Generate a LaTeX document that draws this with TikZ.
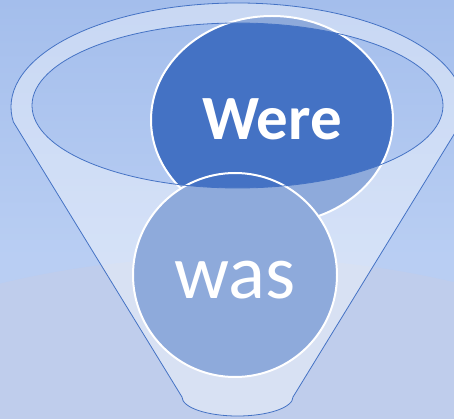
\documentclass[tikz,border=0pt]{standalone}
\usepackage{fontspec}
\newfontfamily\calibri{Carlito}
\usetikzlibrary{shapes.geometric}
\definecolor{accent}{HTML}{4472C4}
\definecolor{bgtop}{HTML}{A4BEEC}
\definecolor{bgmid}{HTML}{B9CEF3}
\definecolor{floor}{HTML}{BFCDEC}

\begin{document}
\begin{tikzpicture}[
  x=1pt, y=1pt,
  % Styles
  bubble/.style={ellipse, fill=accent, draw=white, line width=2pt,
    text=white, inner sep=0pt, text depth=0pt},
  rim/.style={draw=accent, line width=0.8pt},
  glass/.style={fill=white, fill opacity=0.4, even odd rule},
]

% === Background ===
\useasboundingbox (0,0) rectangle (454,418);
\fill[bgmid] (0,0) rectangle (454,160);
\shade[top color=bgtop, bottom color=bgmid] (0,160) rectangle (454,418);
\begin{scope}
  \clip (0,0) rectangle (454,418);
  \fill[floor] (230,-142) ellipse[x radius=560, y radius=303];
\end{scope}

% === Circles ===
\node[bubble, minimum width=242, minimum height=208, text height=40pt,
  font=\calibri\bfseries\fontsize{63}{63}\selectfont] (were) at (272,298) {Were};
\node[bubble, circle, minimum size=204, text height=46pt,
  font=\calibri\fontsize{77}{77}\selectfont] (was) at (235,143) {was};

% === Funnel ===
\path[glass]
  (13.4,296) -- (182,21)
  arc[start angle=180, end angle=360, x radius=55.5, y radius=19]
  -- (461.6,296)
  arc[start angle=-8.3, end angle=188.3, x radius=226.5, y radius=104] -- cycle
  (237.5,312.5) ellipse[x radius=205.5, y radius=82.5];
\draw[rim]
  (13.4,296) -- (182,21)
  arc[start angle=180, end angle=360, x radius=55.5, y radius=19]
  -- (461.6,296)
  arc[start angle=-8.3, end angle=188.3, x radius=226.5, y radius=104] -- cycle;
\draw[rim] (237.5,312.5) ellipse[x radius=205.5, y radius=82.5];

\end{tikzpicture}
\end{document}
